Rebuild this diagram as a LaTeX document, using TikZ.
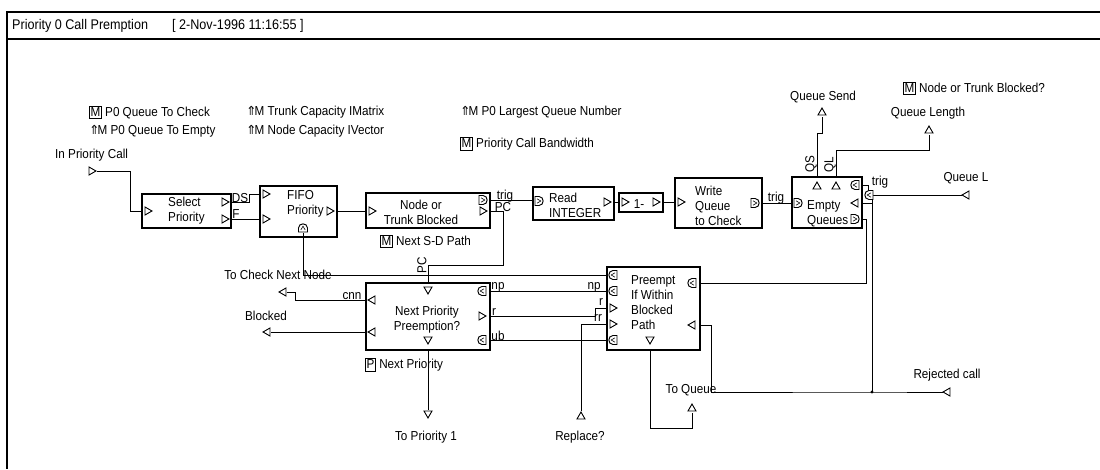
\documentclass[tikz,border=0pt]{standalone}
\usepackage{fontspec}
\setmainfont{Liberation Sans}[FakeStretch=0.9]
\newfontfamily\djv{DejaVu Sans}
\newcommand{\bx}[1]{{\setlength{\fboxsep}{0.8pt}\setlength{\fboxrule}{0.7pt}\fbox{\rule[-1pt]{0pt}{10pt}#1}}}
\newcommand{\upm}{{\djv\fontsize{12.5}{12}\selectfont ⇑}\kern-2pt M}
\tikzset{
  lbl/.style={font=\fontsize{13}{15}\selectfont, inner sep=0pt},
  blk/.style={draw, line width=1.1pt, inner sep=0pt, outer sep=0pt},
  wire/.style={line width=1pt},
  pt/.style={line width=0.9pt, fill=white},
  tR/.pic={\draw[pt] (-3,-4) -- (4,0) -- (-3,4) -- cycle;},
  tL/.pic={\draw[pt] (3,-4) -- (-4,0) -- (3,4) -- cycle;},
  tU/.pic={\draw[pt] (-4,3) -- (4,3) -- (0,-4) -- cycle;},
  tD/.pic={\draw[pt] (-4,-3) -- (4,-3) -- (0,4) -- cycle;},
  dR/.pic={\draw[pt] (-4,-4.5) -- (0,-4.5) .. controls (5.5,-4.5) and (5.5,4.5) .. (0,4.5) -- (-4,4.5) -- cycle;
           \draw[line width=0.6pt] (-2,-2.2) -- (1.8,0) -- (-2,2.2);},
  dL/.pic={\draw[pt] (4,-4.5) -- (0,-4.5) .. controls (-5.5,-4.5) and (-5.5,4.5) .. (0,4.5) -- (4,4.5) -- cycle;
           \draw[line width=0.6pt] (2,-2.2) -- (-1.8,0) -- (2,2.2);},
  dU/.pic={\draw[pt] (-4.5,4) -- (-4.5,0) .. controls (-4.5,-5.5) and (4.5,-5.5) .. (4.5,0) -- (4.5,4) -- cycle;
           \draw[line width=0.6pt] (-2.2,2) -- (0,-1.8) -- (2.2,2);}
}
\begin{document}
\begin{tikzpicture}[x=1pt,y=-1pt]
\useasboundingbox (0,0) rectangle (1100,469);
% frame
\draw[line width=1.2pt] (1100,12) -- (7,12) -- (7,469);
\draw[line width=1.2pt] (7,39) -- (1100,39);
\node[lbl,anchor=west,font=\fontsize{14}{16}\selectfont] (title) at (12,26) {Priority 0 Call Premption};
\node[lbl,anchor=west,font=\fontsize{14}{16}\selectfont] (date) at (172,26) {[ 2-Nov-1996 11:16:55 ]};

% parameter labels
\node[lbl,anchor=west] (p1) at (89,112) {\bx{M} P0 Queue To Check};
\node[lbl,anchor=west] (p2) at (89,131) {\upm\ P0 Queue To Empty};
\node[lbl,anchor=west] (p3) at (246,112) {\upm\ Trunk Capacity IMatrix};
\node[lbl,anchor=west] (p4) at (246,131) {\upm\ Node Capacity IVector};
\node[lbl,anchor=west] (p5) at (460,112) {\upm\ P0 Largest Queue Number};
\node[lbl,anchor=west] (p6) at (460,144) {\bx{M} Priority Call Bandwidth};
\node[lbl,anchor=west] (p7) at (380,241) {\bx{M} Next S-D Path};
\node[lbl,anchor=west] (p8) at (365,365) {\bx{P} Next Priority};
\node[lbl,anchor=west] (p9) at (903,88) {\bx{M} Node or Trunk Blocked?};

% port labels
\node[lbl,anchor=west] (linpc) at (55,155) {In Priority Call};
\node[lbl] (lqs) at (823,97) {Queue Send};
\node[lbl] (lqlen) at (928,113) {Queue Length};
\node[lbl] (lql) at (966,178) {Queue L};
\node[lbl] (lrej) at (947,375) {Rejected call};
\node[lbl] (ltq) at (691,390) {To Queue};
\node[lbl] (lrep) at (580,437) {Replace?};
\node[lbl] (ltp1) at (426,437) {To Priority 1};
\node[lbl] (lblk) at (266,316) {Blocked};
\node[lbl] (ltcn) at (278,275) {To Check Next Node};

% blocks
\node[blk, minimum width=89pt, minimum height=34pt] (sel) at (186.5,211) {};
\node[blk, minimum width=77pt, minimum height=51pt] (fifo) at (298.5,211.5) {};
\node[blk, minimum width=124pt, minimum height=35pt] (ntb) at (428,210.5) {};
\node[blk, minimum width=81pt, minimum height=33pt] (rd) at (573.5,203.5) {};
\node[blk, minimum width=44pt, minimum height=19pt] (one) at (641,202.5) {};
\node[blk, minimum width=87pt, minimum height=50pt] (wq) at (718.5,203) {};
\node[blk, minimum width=70pt, minimum height=51pt] (eq) at (827,202.5) {};
\node[blk, minimum width=124pt, minimum height=67pt] (npp) at (428,316.5) {};
\node[blk, minimum width=93pt, minimum height=83pt] (pre) at (653.5,308.5) {};

% block texts
\node[lbl,align=left,anchor=west] (selt) at (168,211) {Select\\Priority};
\node[lbl,align=left,anchor=west] (fifot) at (287,204) {FIFO\\Priority};
\node[lbl,align=center] (ntbt) at (421,212) {Node or\\Trunk Blocked};
\node[lbl,align=left,anchor=west] (rdt) at (549,205.5) {Read\\INTEGER};
\node[lbl] (onet) at (639,204) {1-};
\node[lbl,align=left,anchor=west] (wqt) at (695,206) {Write\\Queue\\to Check};
\node[lbl,align=left,anchor=west] (eqt) at (807,213.5) {Empty\\Queues};
\node[lbl,align=center] (nppt) at (427,320) {Next Priority\\Preemption?};
\node[lbl,align=left,anchor=west] (pret) at (631,303) {Preempt\\If Within\\Blocked\\Path};

% port coordinates
\coordinate (inpc) at (97,171);
\coordinate (sel-in) at (142,211);
\coordinate (sel-ds) at (231,202);
\coordinate (sel-f) at (231,219);
\coordinate (fifo-ds) at (260,194);
\coordinate (fifo-f) at (260,219);
\coordinate (fifo-out) at (337,211);
\coordinate (fifo-bot) at (303,233);
\coordinate (ntb-in) at (366,211);
\coordinate (ntb-trig) at (490,200);
\coordinate (ntb-pc) at (490,211);
\coordinate (rd-in) at (533,200);
\coordinate (rd-out) at (614,202);
\coordinate (one-in) at (619,202);
\coordinate (one-out) at (663,202);
\coordinate (wq-in) at (675,202);
\coordinate (wq-out) at (762,203);
\coordinate (eq-in) at (792,203);
\coordinate (eq-qs) at (817,177);
\coordinate (eq-ql) at (836,177);
\coordinate (eq-trig) at (862,185);
\coordinate (eq-q) at (862,203);
\coordinate (eq-o3) at (862,219);
\coordinate (xport) at (869,195);
\coordinate (npp-pc) at (428,283);
\coordinate (npp-bot) at (428,350);
\coordinate (npp-cnn) at (366,300);
\coordinate (npp-bl) at (366,332);
\coordinate (npp-np) at (490,291);
\coordinate (npp-r) at (490,316);
\coordinate (npp-ub) at (490,340);
\coordinate (pre-a) at (607,275);
\coordinate (pre-np) at (607,291);
\coordinate (pre-r) at (607,308);
\coordinate (pre-rr) at (607,324);
\coordinate (pre-ub) at (607,340);
\coordinate (pre-o) at (700,283);
\coordinate (pre-q) at (700,325);
\coordinate (pre-bot) at (650,350);
% top level ports
\coordinate (qs) at (822,117);
\coordinate (qlen) at (929,135);
\coordinate (ql) at (962,195);
\coordinate (rej) at (943,392);
\coordinate (tq) at (692,413);
\coordinate (rep) at (581,411);
\coordinate (tp1) at (428,410);
\coordinate (blk) at (271,332);
\coordinate (tcn) at (287,292);
% bends
\coordinate (pcb) at (503,265);
\coordinate (rj) at (595,308);
\coordinate (cnj) at (295,292);
\coordinate (tqj) at (650,428);
\coordinate (qv) at (711,392);
\coordinate (jn) at (872,392);
\coordinate (hj) at (866,283);
\coordinate (qsj) at (822,133);
\coordinate (qlj) at (929,150);
\coordinate (tj) at (868,191);
\coordinate (vj) at (872,199);

% wires
\draw[wire] (inpc) -- ++(33,0) |- (sel-in);
\draw[wire] (sel-ds) -- ++(18,0) |- (fifo-ds);
\draw[wire] (sel-f) -- (fifo-f);
\draw[wire] (fifo-out) -- (ntb-in);
\draw[wire] (ntb-trig) -- (rd-in);
\draw[wire] (rd-out) -- (one-in);
\draw[wire] (one-out) -- (wq-in);
\draw[wire] (wq-out) -- (eq-in);
\draw[wire] (ntb-pc) -| (pcb) -| (npp-pc);
\draw[wire] (fifo-bot) |- (pre-a);
\draw[wire] (npp-np) -- (pre-np);
\draw[wire] (npp-r) -| (rj) -- (pre-r);
\draw[wire] (npp-ub) -- (pre-ub);
\draw[wire] (rep) |- (pre-rr);
\draw[wire] (npp-cnn) -| (cnj) -- (tcn);
\draw[wire] (npp-bl) -- (blk);
\draw[wire] (npp-bot) -- (tp1);
\draw[wire] (pre-bot) -- (tqj) -| (tq);
\draw[wire] (pre-q) -| (qv) -- (jn) -- (rej);
\draw[wire] (eq-o3) -| (hj) -- (pre-o);
\draw[wire] (eq-trig) -| (tj);
\draw[wire] (xport) -- (ql);
\draw[wire] (vj) -- (jn);
\draw[wire] (eq-q) -- (eq-q -| vj);
\draw[wire] (eq-qs) |- (qsj) -- (qs);
\draw[wire] (eq-ql) |- (qlj) -- (qlen);
\fill (jn) circle (1.6);

% wire labels
\node[lbl] (lds) at (240,198) {DS};
\node[lbl] (lf) at (236,214) {F};
\node[lbl] (ltrig1) at (505,196) {trig};
\node[lbl] (lpc1) at (503,207) {PC};
\node[lbl] (ltrig2) at (776,198) {trig};
\node[lbl] (ltrig3) at (880,182) {trig};
\node[lbl] (lcnn) at (352,296) {cnn};
\node[lbl] (lnp1) at (498,287) {np};
\node[lbl] (lr1) at (494,312) {r};
\node[lbl] (lub) at (498,336) {ub};
\node[lbl] (lnp2) at (594,287) {np};
\node[lbl] (lr2) at (601,302) {r};
\node[lbl] (lrr) at (598,318) {rr};
\node[lbl,rotate=90] (lpc2) at (422,265) {PC};
\node[lbl,rotate=90] (lqsr) at (811,164) {QS};
\node[lbl,rotate=90] (lqlr) at (830,165) {QL};

% port glyphs
\pic at (92,171) {tR};
\pic at (148,211) {tR};
\pic at (225,202) {tR};
\pic at (225,219) {tR};
\pic at (266,194) {tR};
\pic at (266,219) {tR};
\pic at (330,211) {tR};
\pic at (303,228) {dU};
\pic at (372,211) {tR};
\pic at (483,200) {dR};
\pic at (483,211) {tR};
\pic at (539,201) {dR};
\pic at (607,202) {tR};
\pic at (625,202) {tR};
\pic at (656,202) {tR};
\pic at (681,202) {tR};
\pic at (755,203) {dR};
\pic at (798,203) {dR};
\pic at (817,186) {tU};
\pic at (836,186) {tU};
\pic at (855,185) {dL};
\pic at (855,203) {tL};
\pic at (855,219) {dR};
\pic at (869,195) {dL};
\pic at (428,290) {tD};
\pic at (428,340) {tD};
\pic at (372,300) {tL};
\pic at (372,332) {tL};
\pic at (482,291) {dL};
\pic at (482,316) {tR};
\pic at (482,340) {dL};
\pic at (613,275) {dL};
\pic at (613,291) {dL};
\pic at (613,308) {tR};
\pic at (613,324) {tR};
\pic at (613,340) {dL};
\pic at (692,283) {dL};
\pic at (692,325) {tL};
\pic at (650,340) {tD};
% top-level port glyphs
\pic at (822,112) {tU};
\pic at (929,130) {tU};
\pic at (966,195) {tL};
\pic at (947,392) {tL};
\pic at (692,408) {tU};
\pic at (581,416) {tU};
\pic at (428,414) {tD};
\pic at (267,332) {tL};
\pic at (283,292) {tL};
\end{tikzpicture}
\end{document}
